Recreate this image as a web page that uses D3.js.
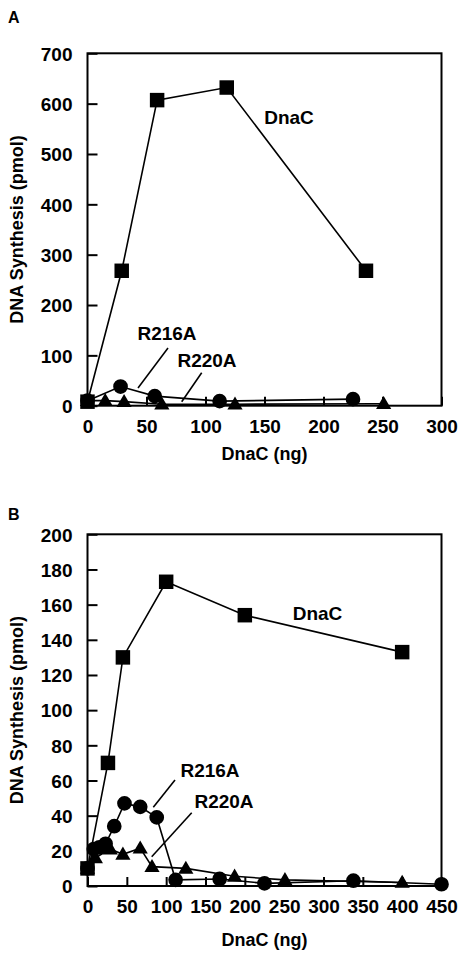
<!DOCTYPE html>
<html><head><meta charset="utf-8">
<script src="https://cdn.jsdelivr.net/npm/d3@7/dist/d3.min.js"></script>
<style>body{margin:0;background:#fff}svg{display:block}text{font-family:"Liberation Sans",Arial,sans-serif;font-weight:bold;fill:#000}</style>
</head><body><svg id="c" width="465" height="958"></svg>
<script>
// Panel A data
const aDnaCx = [0, 29, 59, 118, 236];
const aDnaCy = [8, 268, 607, 632, 268];
const aR216x = [0, 28, 57, 112, 225];
const aR216y = [10, 38, 19, 9, 13];
const aR220x = [0, 15, 31, 63, 125, 251];
const aR220y = [10, 10, 8, 3, 3, 4];
const aXTicks = [0, 50, 100, 150, 200, 250, 300];
const aYTicks = [0, 100, 200, 300, 400, 500, 600, 700];
// Panel B data
const bDnaCx = [0, 26, 45, 100, 200, 400];
const bDnaCy = [10, 70, 130, 173, 154, 133];
const bR216x = [0, 8, 15, 23, 34, 47, 67, 88, 112, 168, 225, 338, 450];
const bR216y = [10, 21, 22, 24, 34, 47, 45, 39, 3.5, 4, 1.5, 3, 1];
const bR220x = [0, 10, 29, 45, 67, 82, 125, 187, 251, 400];
const bR220y = [10, 16, 21, 18, 21.5, 11, 10, 5.5, 3.5, 2];
const bXTicks = [0, 50, 100, 150, 200, 250, 300, 350, 400, 450];
const bYTicks = [0, 20, 40, 60, 80, 100, 120, 140, 160, 180, 200];

const svg = d3.select("#c");

function panel(o) {
  const g = svg.append("g");
  const x = d3.scaleLinear().domain(o.xd).range([87.5, 441.5]);
  const y = d3.scaleLinear().domain(o.yd).range([o.y0, o.y1]);
  g.append("rect").attr("x", x.range()[0]).attr("y", o.y1)
    .attr("width", x.range()[1] - x.range()[0]).attr("height", o.y0 - o.y1)
    .attr("fill", "none").attr("stroke", "#000").attr("stroke-width", 2);
  const ax = g.append("g").attr("transform", `translate(0,${o.y0})`)
    .call(d3.axisBottom(x).tickValues(o.xt).tickSizeInner(-9).tickSizeOuter(0));
  const ay = g.append("g").attr("transform", `translate(${x.range()[0]},0)`)
    .call(d3.axisLeft(y).tickValues(o.yt).tickSizeInner(-10).tickSizeOuter(0));
  [ax, ay].forEach(a => {
    a.select(".domain").remove();
    a.selectAll("line").attr("stroke", "#000").attr("stroke-width", 2);
    a.selectAll("text").style("font-size", "19px").style("font-family", '"Liberation Sans",Arial,sans-serif').style("font-weight", "bold");
  });
  ax.selectAll("text").attr("dy", "0.71em").attr("y", 14);
  ay.selectAll("text").attr("x", -15).attr("dy", "0.36em");
  g.append("text").attr("x", 264.5).attr("y", o.xTitleY).attr("text-anchor", "middle")
    .style("font-size", "18px").text("DnaC (ng)");
  g.append("text").attr("transform", `translate(23,${(o.y0 + o.y1) / 2}) rotate(-90)`)
    .attr("text-anchor", "middle").style("font-size", "18px").text("DNA Synthesis (pmol)");
  g.append("text").attr("x", 8).attr("y", o.letterY).style("font-size", "16px").text(o.letter);
  const line = d3.line().x(d => x(d[0])).y(d => y(d[1]));
  const series = [
    {xs: o.r220x, ys: o.r220y, sym: d3.symbolTriangle, size: 100},
    {xs: o.r216x, ys: o.r216y, sym: d3.symbolCircle, size: 170},
    {xs: o.dnacx, ys: o.dnacy, sym: d3.symbolSquare, size: 210}
  ];
  series.forEach(s => {
    const pts = s.xs.map((v, i) => [v, s.ys[i]]);
    g.append("path").attr("d", line(pts)).attr("fill", "none").attr("stroke", "#000").attr("stroke-width", 1.6);
  });
  series.forEach(s => {
    const pts = s.xs.map((v, i) => [v, s.ys[i]]);
    g.selectAll(null).data(pts).enter().append("path")
      .attr("d", d3.symbol().type(s.sym).size(s.size))
      .attr("transform", d => `translate(${x(d[0])},${y(d[1]) + (s.sym === d3.symbolTriangle ? 1 : 0)})`)
      .attr("fill", "#000");
  });
  o.labels.forEach(l => {
    g.append("text").attr("x", l.x).attr("y", l.y).attr("text-anchor", "middle").style("font-size", "19px").text(l.t);
    if (l.ln) g.append("line").attr("x1", l.ln[0]).attr("y1", l.ln[1]).attr("x2", l.ln[2]).attr("y2", l.ln[3])
      .attr("stroke", "#000").attr("stroke-width", 1.6);
  });
}

panel({xd: [0, 300], yd: [0, 700], y0: 405.7, y1: 53.3, xt: aXTicks, yt: aYTicks,
  dnacx: aDnaCx, dnacy: aDnaCy, r216x: aR216x, r216y: aR216y, r220x: aR220x, r220y: aR220y,
  xTitleY: 460, letter: "A", letterY: 23,
  labels: [
    {t: "DnaC", x: 289, y: 124},
    {t: "R216A", x: 167, y: 340, ln: [168, 348, 138, 388]},
    {t: "R220A", x: 207, y: 366.5, ln: [201.7, 372.7, 181.7, 401.7]}
  ]});
panel({xd: [0, 450], yd: [0, 200], y0: 886, y1: 534.3, xt: bXTicks, yt: bYTicks,
  dnacx: bDnaCx, dnacy: bDnaCy, r216x: bR216x, r216y: bR216y, r220x: bR220x, r220y: bR220y,
  xTitleY: 946, letter: "B", letterY: 520,
  labels: [
    {t: "DnaC", x: 317.5, y: 620},
    {t: "R216A", x: 210, y: 777, ln: [175, 780, 153.3, 807.3]},
    {t: "R220A", x: 224, y: 808, ln: [191.7, 812.7, 151.7, 856.7]}
  ]});
</script></body></html>
